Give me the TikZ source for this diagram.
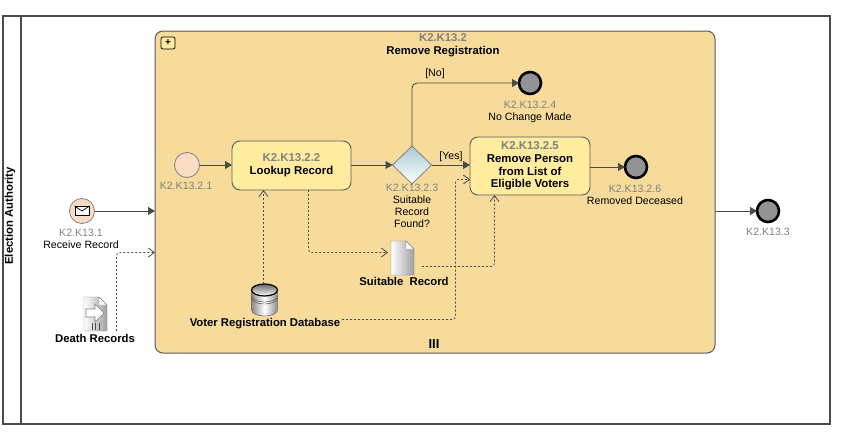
\documentclass[tikz,border=0pt]{standalone}
\usepackage{fontspec}
\setmainfont{Liberation Sans}
\usetikzlibrary{shapes.geometric,arrows.meta}
\definecolor{linegray}{HTML}{4A4A4A}
\definecolor{idgray}{HTML}{808080}
\definecolor{subfill}{HTML}{F7DB9B}
\definecolor{taskfill}{HTML}{FFEC9F}
\definecolor{startfill}{HTML}{FBDCC4}
\definecolor{gatefill}{HTML}{A9CBD3}
\tikzset{
  flow/.style={draw=linegray, line width=0.9pt, -{Triangle[length=7pt,width=8pt]}},
  assoc/.style={draw=linegray, line width=0.8pt, dash pattern=on 2pt off 2pt, rounded corners=3pt, -{Straight Barb[length=6pt,width=9pt]}},
  startev/.style={circle, draw=gray, line width=0.8pt, fill=startfill, minimum size=25pt, inner sep=0pt, outer sep=0pt},
  endev/.style={circle, draw=black, line width=2.6pt, fill=gray!85, minimum size=22pt, inner sep=0pt, outer sep=0pt},
  task/.style={draw=gray!70!black, line width=0.9pt, rounded corners=8pt, fill=taskfill, align=center, inner sep=0pt, outer sep=0pt, font=\fontsize{11.4}{12.6}\selectfont\bfseries},
  lbl/.style={align=center, inner sep=0pt, font=\fontsize{10.6}{12}\selectfont},
  boldlbl/.style={lbl, font=\fontsize{11.3}{12.6}\selectfont\bfseries},
  docicon/.pic={
    \draw[draw=gray, left color=white, right color=gray!75] (0,0) -- (15,0) -- (23,8) -- (23,34) -- (0,34) -- cycle;
    \draw[draw=gray, fill=white] (15,0) -- (23,8) -- (15,8) -- cycle;
  },
  dbicon/.pic={
    \draw[draw=linegray, left color=gray!90, right color=gray!90, middle color=white] (-13,-10) -- (-13,10) arc[start angle=180, end angle=360, x radius=13, y radius=-6] -- (13,-10) -- cycle;
    \draw[draw=linegray] (-13,-4) arc[start angle=180, end angle=360, x radius=13, y radius=-6];
    \draw[draw=linegray] (-13,-2) arc[start angle=180, end angle=360, x radius=13, y radius=-6];
    \draw[draw=black, line width=1.2pt, top color=gray!80!black, bottom color=white] (0,-10) ellipse[x radius=13, y radius=6];
  }
}
\begin{document}
\begin{tikzpicture}[x=1pt, y=-1pt]
\useasboundingbox (0,0) rectangle (859,439);
% pool
\node (pool) [draw=linegray, line width=1.8pt, minimum width=827pt, minimum height=408pt, inner sep=0pt, anchor=north west] at (2,15) {};
\draw[draw=linegray, line width=1.8pt] (21,15) -- (21,423);
\node (lane) [rotate=90, inner sep=0pt, font=\fontsize{11.3}{12}\selectfont\bfseries] at (10,216) {Election Authority};
% subprocess
\node (sub) [draw=gray!70!black, line width=1pt, rounded corners=8pt, fill=subfill, minimum width=560pt, minimum height=322pt, inner sep=0pt, outer sep=0pt, anchor=north west] at (155,31) {};
\node (plus) [draw=black, line width=0.7pt, rounded corners=2pt, fill=taskfill, minimum width=14pt, minimum height=12pt, inner sep=0pt, font=\fontsize{10}{10}\selectfont\bfseries] at (168,43) {+};
\node (subtitle) [boldlbl] at (443,45.5) {{\color{idgray}K2.K13.2}\\Remove Registration};
\node (submark) [inner sep=0pt, font=\fontsize{13}{13}\selectfont\bfseries] at (434,344) {III};
% events
\node (recv) [startev] at (82,211) {};
\node (envelope) [draw=black, line width=0.8pt, fill=white, minimum width=14pt, minimum height=9pt, inner sep=0pt] at (82,211) {};
\draw[draw=black, line width=0.7pt] (envelope.north west) -- (envelope.center) -- (envelope.north east);
\node (recvlbl) [lbl] at (81,238.5) {{\color{idgray}K2.K13.1}\\Receive Record};
\node (start) [startev] at (187,165) {};
\node (startlbl) [lbl, text=idgray] at (186,186) {K2.K13.2.1};
\node (lookup) [task, minimum width=119pt, minimum height=49pt] at (291.5,165.5) {{\color{idgray}K2.K13.2.2}\\Lookup Record};
\node (gate) [diamond, draw=gray, line width=0.8pt, top color=gatefill, bottom color=white, minimum width=39pt, minimum height=38pt, aspect=1, inner sep=0pt, outer sep=0pt] at (412,165) {};
\node (gatelbl) [lbl, anchor=north] at (412,184) {{\color{idgray}K2.K13.2.3}\\Suitable\\Record\\Found?};
\node (remove) [task, minimum width=120pt, minimum height=58pt] at (530,166) {{\color{idgray}K2.K13.2.5}\\Remove Person\\from List of\\Eligible Voters};
\node (nochange) [endev] at (530,83) {};
\node (nochangelbl) [lbl] at (530,111.5) {{\color{idgray}K2.K13.2.4}\\No Change Made};
\node (removed) [endev] at (636,167) {};
\node (removedlbl) [lbl] at (635,195) {{\color{idgray}K2.K13.2.6}\\Removed Deceased};
\node (done) [endev] at (768,211) {};
\node (donelbl) [lbl, text=idgray] at (768,232) {K2.K13.3};
% data
\pic at (84,297) {docicon};
\draw[draw=gray, line width=0.6pt, fill=white] (86,309) -- (95,309) -- (95,304) -- (104,313) -- (95,322) -- (95,317) -- (86,317) -- cycle;
\draw[draw=linegray, line width=0.7pt] (92,323) -- (92,330) (95.5,323) -- (95.5,330) (99,323) -- (99,330);
\node (deathlbl) [boldlbl] at (95,338) {Death Records};
\pic at (391,241) {docicon};
\node (suitlbl) [boldlbl] at (404,281) {Suitable\ \ Record};
\pic at (264.5,300) {dbicon};
\node (dblbl) [boldlbl] at (265,323.5) {Voter Registration Database};
% free ends
\coordinate [] (deathout) at (116.5,331);
\coordinate [] (subin) at (155,252.5);
\coordinate [] (dbout) at (263.5,284);
\coordinate [] (lookupin) at (263.5,190);
\coordinate [] (lookupout) at (308.5,190);
\coordinate [] (suitin) at (388,252.5);
\coordinate [] (suitout) at (422,266.5);
\coordinate [] (removein) at (494.5,195);
\coordinate [] (dbright) at (342,319.5);
\coordinate [] (removeside) at (470,179.5);
% flows
\draw[flow] (recv) -- (recv -| sub.west);
\draw[flow] (start) -- (start -| lookup.west);
\draw[flow] (gate -| lookup.east) -- (gate);
\draw[flow, rounded corners=5pt] (gate.north) |- (nochange);
\node (nolbl) [lbl] at (435,73.5) {[No]};
\draw[flow] (gate.east) -- (gate -| remove.west);
\node (yeslbl) [lbl] at (451,156.5) {[Yes]};
\draw[flow] (remove.east |- removed) -- (removed);
\draw[flow] (done -| sub.east) -- (done);
% associations
\draw[assoc] (deathout) |- (subin);
\draw[assoc] (dbout) -- (lookupin);
\draw[assoc] (lookupout) |- (suitin);
\draw[assoc] (suitout) -| (removein);
\draw[assoc] (dbright) -| (455.5,179.5) -- (removeside);
\end{tikzpicture}
\end{document}
